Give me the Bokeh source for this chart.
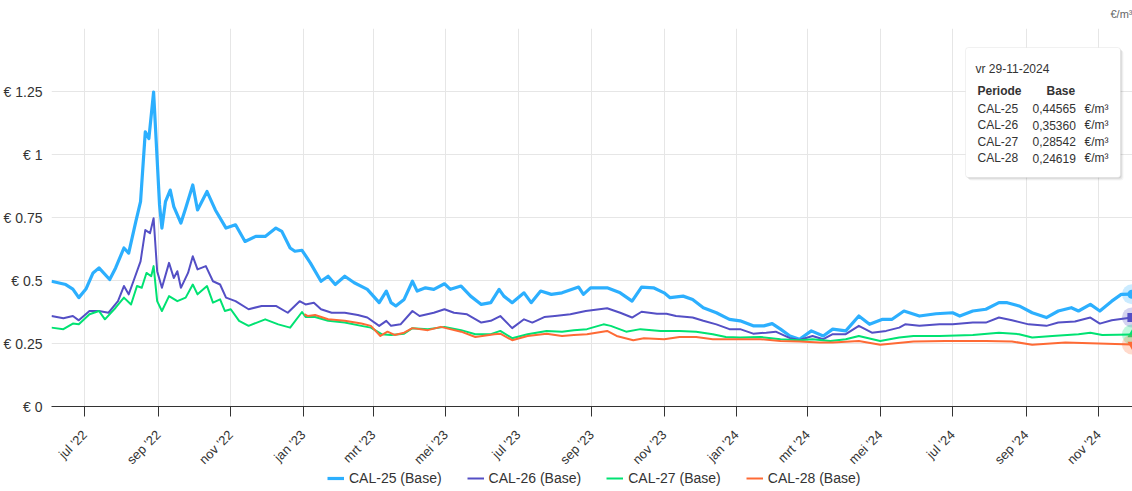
import math
import pandas as pd
from bokeh.plotting import figure
from bokeh.layouts import column
from bokeh.models import (FixedTicker, CustomJSTickFormatter, Legend, LegendItem,
                          Label, BoxAnnotation, Range1d, ColumnDataSource, Title)
from bokeh.embed import file_html
from bokeh.resources import INLINE

# ---------------- data ----------------
SERIES = ["CAL-25", "CAL-26", "CAL-27", "CAL-28"]
COLORS = ["#2caffe", "#544fc5", "#00e272", "#fe6a35"]
MARKERS = ["circle", "square", "triangle", "inverted_triangle"]
WIDTHS = [3.2, 2, 2, 2]

CAL25_DATES = ["2022-06-03", "2022-06-15", "2022-06-21", "2022-06-26", "2022-07-02", "2022-07-08",
               "2022-07-13", "2022-07-22", "2022-07-27", "2022-08-03", "2022-08-07", "2022-08-13",
               "2022-08-17", "2022-08-21", "2022-08-24", "2022-08-28", "2022-09-02", "2022-09-04",
               "2022-09-07", "2022-09-11", "2022-09-14", "2022-09-20", "2022-09-24", "2022-09-30",
               "2022-10-04", "2022-10-12", "2022-10-19", "2022-10-28", "2022-11-05", "2022-11-13",
               "2022-11-22", "2022-11-30", "2022-12-09", "2022-12-14", "2022-12-21", "2022-12-25",
               "2022-12-31", "2023-01-07", "2023-01-16", "2023-01-22", "2023-01-28", "2023-02-05",
               "2023-02-13", "2023-02-24", "2023-03-06", "2023-03-12", "2023-03-16", "2023-03-20",
               "2023-03-27", "2023-04-03", "2023-04-07", "2023-04-14", "2023-04-21", "2023-04-30",
               "2023-05-05", "2023-05-14", "2023-05-22", "2023-05-31", "2023-06-08", "2023-06-15",
               "2023-06-19", "2023-06-26", "2023-07-06", "2023-07-12", "2023-07-20", "2023-07-29",
               "2023-08-07", "2023-08-21", "2023-08-25", "2023-08-31", "2023-09-14", "2023-09-25",
               "2023-10-05", "2023-10-13", "2023-10-23", "2023-11-01", "2023-11-06", "2023-11-17",
               "2023-11-25", "2023-12-04", "2023-12-15", "2023-12-26", "2024-01-04", "2024-01-15",
               "2024-01-24", "2024-01-31", "2024-02-07", "2024-02-15", "2024-02-23", "2024-03-04",
               "2024-03-14", "2024-03-22", "2024-04-02", "2024-04-13", "2024-04-22", "2024-05-03",
               "2024-05-11", "2024-05-21", "2024-06-03", "2024-06-17", "2024-07-01", "2024-07-07",
               "2024-07-18", "2024-07-29", "2024-08-09", "2024-08-16", "2024-08-26", "2024-09-06",
               "2024-09-18", "2024-09-28", "2024-10-09", "2024-10-15", "2024-10-25", "2024-11-02",
               "2024-11-12", "2024-11-20", "2024-11-29"]
CAL25_VALUES = [0.497, 0.484, 0.466, 0.432, 0.466, 0.530,
                0.550, 0.504, 0.550, 0.629, 0.609, 0.734,
                0.813, 1.090, 1.063, 1.248, 0.800, 0.708,
                0.813, 0.859, 0.793, 0.728, 0.787, 0.879,
                0.780, 0.853, 0.780, 0.708, 0.721, 0.655,
                0.675, 0.675, 0.708, 0.695, 0.629, 0.616,
                0.620, 0.570, 0.497, 0.517, 0.484, 0.517,
                0.491, 0.465, 0.412, 0.458, 0.412, 0.399,
                0.425, 0.497, 0.458, 0.471, 0.465, 0.487,
                0.465, 0.478, 0.438, 0.405, 0.412, 0.465,
                0.438, 0.412, 0.451, 0.412, 0.458, 0.445,
                0.451, 0.474, 0.445, 0.471, 0.471, 0.451,
                0.418, 0.474, 0.471, 0.451, 0.432, 0.438,
                0.425, 0.392, 0.372, 0.346, 0.340, 0.320,
                0.320, 0.329, 0.307, 0.280, 0.267, 0.300,
                0.280, 0.307, 0.300, 0.359, 0.326, 0.346,
                0.346, 0.379, 0.359, 0.368, 0.372, 0.359,
                0.379, 0.386, 0.412, 0.412, 0.399, 0.372,
                0.353, 0.379, 0.392, 0.379, 0.405, 0.379,
                0.418, 0.445, 0.44565]

CAL26_DATES = ["2022-06-03", "2022-06-13", "2022-06-21", "2022-06-26", "2022-07-05", "2022-07-13",
               "2022-07-21", "2022-07-29", "2022-08-03", "2022-08-07", "2022-08-11", "2022-08-17",
               "2022-08-21", "2022-08-25", "2022-08-28", "2022-08-31", "2022-09-04", "2022-09-10",
               "2022-09-14", "2022-09-17", "2022-09-20", "2022-09-26", "2022-09-30", "2022-10-04",
               "2022-10-11", "2022-10-17", "2022-10-23", "2022-10-28", "2022-11-05", "2022-11-16",
               "2022-11-27", "2022-12-09", "2022-12-19", "2022-12-29", "2023-01-03", "2023-01-10",
               "2023-01-16", "2023-01-25", "2023-02-05", "2023-02-16", "2023-02-24", "2023-03-06",
               "2023-03-12", "2023-03-16", "2023-03-24", "2023-04-03", "2023-04-09", "2023-04-21",
               "2023-04-30", "2023-05-08", "2023-05-19", "2023-05-31", "2023-06-08", "2023-06-16",
               "2023-06-26", "2023-07-06", "2023-07-13", "2023-07-23", "2023-08-01", "2023-08-14",
               "2023-08-27", "2023-09-14", "2023-09-25", "2023-10-05", "2023-10-13", "2023-10-26",
               "2023-11-03", "2023-11-11", "2023-11-25", "2023-12-04", "2023-12-15", "2023-12-26",
               "2024-01-04", "2024-01-15", "2024-01-26", "2024-02-03", "2024-02-15", "2024-02-23",
               "2024-03-05", "2024-03-14", "2024-03-22", "2024-04-02", "2024-04-13", "2024-04-24",
               "2024-05-06", "2024-05-17", "2024-05-22", "2024-06-03", "2024-06-20", "2024-07-01",
               "2024-07-18", "2024-07-29", "2024-08-09", "2024-08-20", "2024-09-03", "2024-09-18",
               "2024-09-28", "2024-10-12", "2024-10-25", "2024-11-02", "2024-11-12", "2024-11-29"]
CAL26_VALUES = [0.359, 0.350, 0.359, 0.342, 0.379, 0.379,
                0.372, 0.418, 0.478, 0.445, 0.497, 0.576,
                0.700, 0.688, 0.747, 0.537, 0.471, 0.570,
                0.510, 0.537, 0.471, 0.530, 0.596, 0.544,
                0.557, 0.497, 0.484, 0.432, 0.418, 0.386,
                0.399, 0.399, 0.372, 0.418, 0.405, 0.412,
                0.386, 0.372, 0.372, 0.363, 0.353, 0.320,
                0.340, 0.320, 0.326, 0.379, 0.359, 0.372,
                0.386, 0.372, 0.366, 0.333, 0.340, 0.359,
                0.311, 0.346, 0.333, 0.355, 0.359, 0.366,
                0.379, 0.390, 0.372, 0.353, 0.376, 0.368,
                0.368, 0.359, 0.353, 0.340, 0.326, 0.307,
                0.307, 0.289, 0.293, 0.297, 0.271, 0.264,
                0.280, 0.267, 0.287, 0.287, 0.320, 0.293,
                0.300, 0.313, 0.326, 0.320, 0.326, 0.326,
                0.333, 0.333, 0.353, 0.342, 0.326, 0.320,
                0.333, 0.337, 0.353, 0.329, 0.342, 0.35360]

CAL27_DATES = ["2022-06-03", "2022-06-13", "2022-06-21", "2022-06-26", "2022-07-05", "2022-07-13",
               "2022-07-18", "2022-07-27", "2022-08-03", "2022-08-09", "2022-08-14", "2022-08-18",
               "2022-08-22", "2022-08-26", "2022-08-28", "2022-08-31", "2022-09-04", "2022-09-10",
               "2022-09-17", "2022-09-24", "2022-09-30", "2022-10-04", "2022-10-12", "2022-10-17",
               "2022-10-23", "2022-10-27", "2022-11-01", "2022-11-08", "2022-11-16", "2022-11-30",
               "2022-12-11", "2022-12-21", "2022-12-31", "2023-01-03", "2023-01-11", "2023-01-22",
               "2023-02-05", "2023-02-19", "2023-02-27", "2023-03-08", "2023-03-16", "2023-03-27",
               "2023-04-03", "2023-04-16", "2023-04-30", "2023-05-14", "2023-05-26", "2023-06-08",
               "2023-06-16", "2023-06-26", "2023-07-09", "2023-07-25", "2023-08-07", "2023-08-17",
               "2023-08-28", "2023-09-11", "2023-09-17", "2023-09-30", "2023-10-12", "2023-10-29",
               "2023-11-14", "2023-11-28", "2023-12-12", "2023-12-23", "2024-01-04", "2024-01-21",
               "2024-02-07", "2024-02-23", "2024-03-05", "2024-03-20", "2024-04-02", "2024-04-13",
               "2024-05-01", "2024-05-17", "2024-05-29", "2024-06-20", "2024-07-18", "2024-08-09",
               "2024-08-26", "2024-09-06", "2024-09-23", "2024-10-15", "2024-10-25", "2024-11-04",
               "2024-11-29"]
CAL27_VALUES = [0.313, 0.307, 0.329, 0.326, 0.366, 0.379,
                0.346, 0.392, 0.432, 0.405, 0.478, 0.471,
                0.530, 0.517, 0.557, 0.418, 0.379, 0.438,
                0.418, 0.432, 0.484, 0.445, 0.478, 0.412,
                0.425, 0.379, 0.386, 0.340, 0.320, 0.346,
                0.326, 0.313, 0.375, 0.355, 0.355, 0.340,
                0.333, 0.320, 0.313, 0.287, 0.284, 0.289,
                0.311, 0.307, 0.316, 0.303, 0.287, 0.287,
                0.300, 0.271, 0.287, 0.300, 0.297, 0.303,
                0.307, 0.326, 0.320, 0.297, 0.307, 0.300,
                0.300, 0.297, 0.287, 0.276, 0.274, 0.276,
                0.267, 0.263, 0.267, 0.260, 0.267, 0.280,
                0.260, 0.274, 0.280, 0.280, 0.284, 0.293,
                0.287, 0.274, 0.280, 0.287, 0.293, 0.284,
                0.28542]

CAL28_DATES = ["2023-01-02", "2023-01-05", "2023-01-11", "2023-01-22", "2023-02-05", "2023-02-19",
               "2023-02-27", "2023-03-07", "2023-03-13", "2023-03-19", "2023-03-27", "2023-04-03",
               "2023-04-16", "2023-04-27", "2023-05-14", "2023-05-26", "2023-06-11", "2023-06-16",
               "2023-06-26", "2023-07-09", "2023-07-25", "2023-08-07", "2023-08-17", "2023-08-28",
               "2023-09-14", "2023-09-22", "2023-10-06", "2023-10-15", "2023-11-01", "2023-11-14",
               "2023-11-28", "2023-12-12", "2024-01-04", "2024-01-21", "2024-02-07", "2024-02-23",
               "2024-03-11", "2024-03-22", "2024-04-13", "2024-05-01", "2024-05-29", "2024-06-25",
               "2024-07-29", "2024-08-20", "2024-09-06", "2024-10-04", "2024-11-01", "2024-11-29"]
CAL28_VALUES = [0.366, 0.359, 0.363, 0.346, 0.340, 0.329,
                0.320, 0.280, 0.297, 0.284, 0.293, 0.311,
                0.303, 0.316, 0.297, 0.276, 0.287, 0.289,
                0.263, 0.280, 0.289, 0.280, 0.284, 0.287,
                0.300, 0.280, 0.263, 0.271, 0.267, 0.276,
                0.276, 0.267, 0.267, 0.267, 0.260, 0.258,
                0.254, 0.254, 0.260, 0.245, 0.258, 0.260,
                0.260, 0.258, 0.245, 0.254, 0.250, 0.24619]

ALL_DATES = [CAL25_DATES, CAL26_DATES, CAL27_DATES, CAL28_DATES]
ALL_VALUES = [CAL25_VALUES, CAL26_VALUES, CAL27_VALUES, CAL28_VALUES]

X_TICKS = ["2022-07-01", "2022-09-01", "2022-11-01", "2023-01-01", "2023-03-01", "2023-05-01",
           "2023-07-01", "2023-09-01", "2023-11-01", "2024-01-01", "2024-03-01", "2024-05-01",
           "2024-07-01", "2024-09-01", "2024-11-01"]
MONTHS_NL = ["jan", "feb", "mrt", "apr", "mei", "jun", "jul", "aug", "sep", "okt", "nov", "dec"]
WEEKDAYS_NL = ["ma", "di", "wo", "do", "vr", "za", "zo"]
Y_TICKS = [0, 0.25, 0.5, 0.75, 1, 1.25, 1.5]
Y_LABELS = ["€ 0", "€ 0.25", "€ 0.5", "€ 0.75", "€ 1", "€ 1.25", ""]
UNIT = "€/m³"
TOOLTIP_HEAD = ["Periode", "Base"]
X_START = "2022-06-03"
X_END = "2024-11-29 12:00"

FONT = "Liberation Sans"
TXT = "#333333"

# ---------------- main figure ----------------
L, T = 46, 26
W, H = 1132, 491
LEG_H = 24
frame_bottom = 406
B = H - frame_bottom

def ms(d):
    return pd.Timestamp(d).value / 1e6

p = figure(width=W, height=H, x_axis_type="datetime", output_backend="svg",
           toolbar_location=None, min_border_left=L, min_border_right=0,
           min_border_top=T, min_border_bottom=B, outline_line_color=None,
           x_range=Range1d(ms(X_START), ms(X_END)), y_range=Range1d(0, 1.5))
p.background_fill_color = "white"
p.border_fill_color = "white"

xt = FixedTicker(ticks=[ms(d) for d in X_TICKS])
p.xaxis.ticker = xt
p.xgrid.ticker = xt
p.xaxis.formatter = CustomJSTickFormatter(args=dict(months=MONTHS_NL), code="""
const d = new Date(tick);
return months[d.getUTCMonth()] + " '" + String(d.getUTCFullYear()).slice(2);
""")
p.xaxis.axis_line_color = TXT
p.xaxis.major_tick_line_color = TXT
p.xaxis.major_tick_out = 10
p.xaxis.major_tick_in = 0
p.xaxis.minor_tick_line_color = None
p.xaxis.major_label_orientation = math.pi / 4
p.xaxis.major_label_text_font = FONT
p.xaxis.major_label_text_font_size = "13px"
p.xaxis.major_label_text_color = TXT
p.xaxis.major_label_standoff = 16

yt = FixedTicker(ticks=Y_TICKS)
p.yaxis.ticker = yt
p.ygrid.ticker = yt
p.yaxis.formatter = CustomJSTickFormatter(args=dict(yvals=Y_TICKS, ylabels=Y_LABELS), code="""
for (let i = 0; i < yvals.length; i++) { if (Math.abs(yvals[i] - tick) < 1e-9) return ylabels[i]; }
return "";
""")
p.yaxis.axis_line_color = None
p.yaxis.major_tick_line_color = None
p.yaxis.minor_tick_line_color = None
p.yaxis.major_label_text_font = FONT
p.yaxis.major_label_text_font_size = "14px"
p.yaxis.major_label_text_color = TXT
p.yaxis.major_label_standoff = 3

p.xgrid.grid_line_color = "#e6e6e6"
p.ygrid.grid_line_color = "#e6e6e6"

# series lines
for name, col, w, dates, vals in zip(SERIES, COLORS, WIDTHS, ALL_DATES, ALL_VALUES):
    src = ColumnDataSource(dict(x=pd.to_datetime(dates), y=vals))
    p.line("x", "y", source=src, line_color=col, line_width=w, line_join="round")

# last-point markers with halo
for col, mk, dates, vals in zip(COLORS, MARKERS, ALL_DATES, ALL_VALUES):
    lx = pd.to_datetime([dates[-1]])
    p.scatter(x=lx, y=[vals[-1]], size=20, fill_color=col, fill_alpha=0.25, line_color=None)
    p.scatter(x=lx, y=[vals[-1]], size=9, marker=mk, fill_color=col, line_color=None)

# unit label above the plot
p.add_layout(Title(text=UNIT, align="right", text_font=FONT, text_font_size="11px",
                   text_color="#666666", text_font_style="normal", standoff=14, offset=0,
                   vertical_align="top"),
             "above")

# tooltip box
bx0, bx1, by0, by1 = 960 - L, 1115 - L, frame_bottom - 47, frame_bottom - 177
for off, a in [(3, 0.04), (2, 0.06), (1, 0.08)]:
    p.add_layout(BoxAnnotation(left=bx0 + off, right=bx1 + off, top=by0 - off, bottom=by1 - off,
                               left_units="screen", right_units="screen", top_units="screen",
                               bottom_units="screen", fill_color="black", fill_alpha=a,
                               line_color=None, border_radius=3))
p.add_layout(BoxAnnotation(left=bx0, right=bx1, top=by0, bottom=by1,
                           left_units="screen", right_units="screen", top_units="screen",
                           bottom_units="screen", fill_color="white", fill_alpha=1,
                           line_color="#cfcfcf", line_width=1, border_radius=3))

last = pd.Timestamp(CAL25_DATES[-1])
date_txt = f"{WEEKDAYS_NL[last.weekday()]} {last.strftime('%d-%m-%Y')}"

def lab(x, y, t, bold=False):
    p.add_layout(Label(x=x - L, y=frame_bottom - y, x_units="screen", y_units="screen",
                       text=t, text_align="left", text_baseline="middle", text_font=FONT,
                       text_font_size="12px", text_color=TXT,
                       text_font_style="bold" if bold else "normal"))

lab(970, 68, date_txt)
lab(972, 90, TOOLTIP_HEAD[0], True)
lab(1041, 90, TOOLTIP_HEAD[1], True)
for i, (name, vals) in enumerate(zip(SERIES, ALL_VALUES)):
    yy = 108 + i * 16.5
    lab(972, yy, name)
    lab(1027, yy, f"{vals[-1]:.5f}".replace(".", ","))
    lab(1079, yy, UNIT)

# ---------------- legend strip (overlaid on the bottom of the main figure) ----------------
lg = figure(width=W, height=LEG_H, output_backend="svg", toolbar_location=None,
            min_border=0, outline_line_color=None, x_range=Range1d(0, 1), y_range=Range1d(0, 1),
            x_axis_location=None, y_axis_location=None, margin=(-LEG_H, 0, 0, 0))
lg.grid.visible = False
lg.background_fill_alpha = 0
lg.border_fill_alpha = 0
items = []
for name, col, w in zip(SERIES, COLORS, WIDTHS):
    # hidden placeholder (outside the visible range) so the legend can draw the swatch
    r = lg.line(x=[-2, -1], y=[-2, -2], line_color=col, line_width=w)
    items.append(LegendItem(label=f"{name} (Base)", renderers=[r]))
legend = Legend(items=items, orientation="horizontal", location=(276, 3),
                glyph_width=17, glyph_height=20, label_height=20, label_standoff=5, spacing=25,
                padding=0, margin=0, border_line_color=None, background_fill_alpha=0,
                label_text_font=FONT, label_text_font_size="14px", label_text_color=TXT)
lg.add_layout(legend)

layout = column(p, lg, spacing=0)
open("out.html", "w").write(file_html(layout, INLINE))
